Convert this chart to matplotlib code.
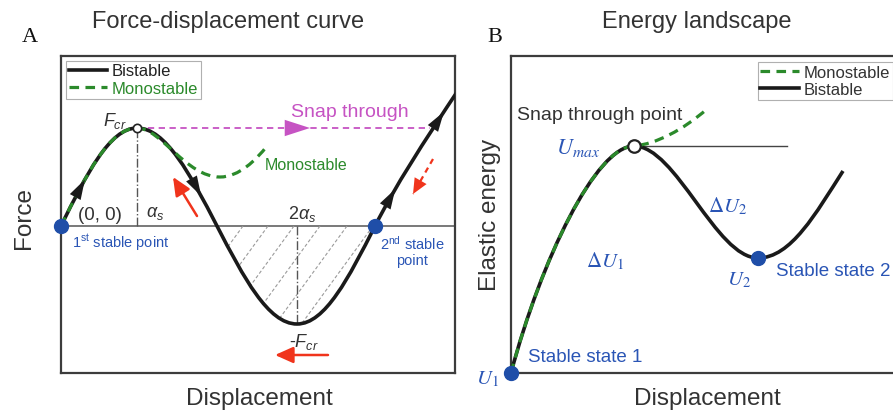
import numpy as np
import matplotlib
matplotlib.use("Agg")
import matplotlib.pyplot as plt
from matplotlib.path import Path
from matplotlib.patches import PathPatch
from matplotlib.lines import Line2D
from matplotlib.bezier import BezierSegment

plt.rcParams['font.family'] = ['Liberation Sans', 'DejaVu Sans']
plt.rcParams['mathtext.fontset'] = 'custom'
plt.rcParams['mathtext.rm'] = 'Liberation Sans'
plt.rcParams['mathtext.it'] = 'Liberation Sans:italic'
plt.rcParams['mathtext.bf'] = 'Liberation Sans:bold'

# panel A: force vs displacement, cubic Bezier vertices
force_bi_x = [0, 25.4, 48.6, 76, 104.8, 129.3, 156, 182.7, 207.2, 236,
              264.1, 287.9, 314, 335, 360, 400]
force_bi_y = [0, 51.5, 98, 98, 98, 51.5, 0, -51.5, -98, -98,
              -98, -51.5, 0, 41, 80, 140]
force_mono_x = [0, 25.4, 48.6, 76, 100, 125, 159, 178, 195, 206]
force_mono_y = [0, 51.5, 98, 98, 98, 49, 49, 49, 66, 80]
f_cr = 98
alpha_s = 76
two_alpha_s = 236
stable_2 = 314
snap_end = 369
hatch_x0 = [182, 207, 233, 259, 286, 312]

# panel B: elastic energy vs displacement, cubic Bezier vertices
energy_bi_x = [0, 30, 85, 123, 165, 205, 247, 280, 305, 332]
energy_bi_y = [0, 113, 227, 227, 227, 115, 115, 115, 160, 202]
energy_mono_x = [0, 30, 85, 123, 145, 172, 196]
energy_mono_y = [0, 113, 227, 227, 229, 243, 264]
u_max_line_end = 276

BLACK = '#1a1a1a'
GREEN = '#2b8a2b'
BLUE = '#1f4ea8'
BLUE_TXT = '#2a55b5'
RED = '#f0341c'
MAG = '#c653c3'
TXT = '#333333'
DASH = (0, (3, 2))

W, H = 893, 414


def frac(x0, y0, x1, y1):
    return [x0 / W, 1 - y1 / H, (x1 - x0) / W, (y1 - y0) / H]


def bezier_path(xs, ys):
    verts = list(zip(xs, ys))
    codes = [Path.MOVETO] + [Path.CURVE4] * (len(verts) - 1)
    return Path(verts, codes)


def head_on_curve(ax, xs, ys, seg, t, color=BLACK, size=17):
    pts = np.column_stack([xs, ys])[3 * seg:3 * seg + 4]
    b = BezierSegment(pts)
    tip = np.asarray(b.point_at_t(t))
    d = tip - np.asarray(b.point_at_t(t - 0.04))
    d = d / np.hypot(*d)
    ax.annotate('', xy=tip, xytext=tip - 16 * d,
                arrowprops=dict(arrowstyle='-|>,head_length=0.85,head_width=0.26',
                                color=color, lw=0, shrinkA=0, shrinkB=0,
                                mutation_scale=size), zorder=7)


def red_arrow(ax, tail, tip, dashed=False):
    style = '-|>,head_length=0.85,head_width=0.38'
    if dashed:
        ax.plot([tail[0], tip[0]], [tail[1], tip[1]], color=RED, lw=1.6,
                ls=(0, (2.5, 2)))
        ax.annotate('', xy=tip, xytext=(tip[0] + (tail[0] - tip[0]) * 0.4,
                                        tip[1] + (tail[1] - tip[1]) * 0.4),
                    arrowprops=dict(arrowstyle=style, color=RED, lw=0,
                                    shrinkA=0, shrinkB=0, mutation_scale=13))
    else:
        ax.annotate('', xy=tip, xytext=tail,
                    arrowprops=dict(arrowstyle=style, color=RED, lw=1.8,
                                    shrinkA=0, shrinkB=0, mutation_scale=13))


fig = plt.figure(figsize=(8.93, 4.14), dpi=100)

axA = fig.add_axes(frac(61, 57, 455, 374))
axA.set_xlim(0, 394)
axA.set_ylim(-147, 170)
axB = fig.add_axes(frac(511, 57, 905, 374))
axB.set_xlim(0, 394)
axB.set_ylim(0, 317)

for ax in (axA, axB):
    ax.set_xticks([])
    ax.set_yticks([])
    for s in ax.spines.values():
        s.set_linewidth(1.6)
        s.set_color('#3c3c3c')

# ---------- panel A ----------
axA.axhline(0, color='#555555', lw=1.1, zorder=1)

region = list(zip(force_bi_x[6:13], force_bi_y[6:13])) + [(force_bi_x[6], 0)]
region_codes = [Path.MOVETO] + [Path.CURVE4] * 6 + [Path.CLOSEPOLY]
clip = PathPatch(Path(region, region_codes), facecolor='none', edgecolor='none')
axA.add_patch(clip)
for x0 in hatch_x0:
    ln, = axA.plot([x0, x0 - 110 / 1.37], [0, -110], color='#9a9a9a', lw=0.8,
                   ls=(0, (3, 2)), zorder=1)
    ln.set_clip_path(clip)

axA.plot([alpha_s, alpha_s], [0, f_cr], color='#555555', lw=1, ls='-.', zorder=1)
axA.plot([two_alpha_s, two_alpha_s], [0, -f_cr], color='#555555', lw=1, ls='-.',
         zorder=1)

axA.add_patch(PathPatch(bezier_path(force_bi_x, force_bi_y), fill=False,
                        lw=2.6, edgecolor=BLACK, zorder=3))
axA.add_patch(PathPatch(bezier_path(force_mono_x, force_mono_y), fill=False,
                        lw=2.3, edgecolor=GREEN, linestyle=DASH, zorder=4))

head_on_curve(axA, force_bi_x, force_bi_y, 0, 0.32)
head_on_curve(axA, force_bi_x, force_bi_y, 1, 0.8)
head_on_curve(axA, force_bi_x, force_bi_y, 4, 0.3)
head_on_curve(axA, force_bi_x, force_bi_y, 4, 0.85)

axA.plot([alpha_s, snap_end], [f_cr, f_cr], color=MAG, lw=1.3, ls=(0, (3.5, 2.5)),
         zorder=2)
axA.annotate('', xy=(249, f_cr), xytext=(228, f_cr),
             arrowprops=dict(arrowstyle='-|>,head_length=1.3,head_width=0.42',
                             color=MAG, lw=0, shrinkA=0, shrinkB=0,
                             mutation_scale=14))

axA.plot(alpha_s, f_cr, 'o', ms=6, mfc='white', mec='#222222', mew=1.2, zorder=6)
axA.plot([0, stable_2], [0, 0], 'o', ms=10, color=BLUE, clip_on=False, zorder=6)

red_arrow(axA, (136, 10), (112, 49))
red_arrow(axA, (372, 67), (352, 32), dashed=True)
red_arrow(axA, (267, -129), (214, -129))

axA.text(54, 106, r'$F_{cr}$', fontsize=13, ha='center', va='center', color=TXT)
axA.text(289, 115, 'Snap through', fontsize=14, ha='center', va='center', color=MAG)
axA.text(204, 61, 'Monostable', fontsize=11.5, ha='left', va='center', color=GREEN)
axA.text(38.5, 12, '(0, 0)', fontsize=13.5, ha='center', va='center', color=TXT)
axA.text(94, 13, r'$\alpha_s$', fontsize=13, ha='center', va='center', color=TXT)
axA.text(241, 13, r'$2\alpha_s$', fontsize=13, ha='center', va='center', color=TXT)
axA.text(11, -16, r'1$^{\mathrm{st}}$ stable point', fontsize=10.5, ha='left',
         va='center', color=BLUE_TXT)
axA.text(351, -24, '2$^{\\mathrm{nd}}$ stable\npoint', fontsize=10.5, ha='center',
         va='center', color=BLUE_TXT, multialignment='center', linespacing=1.1)
axA.text(243, -115, r'-$F_{cr}$', fontsize=13, ha='center', va='center', color=TXT)

legA = axA.legend([Line2D([], [], color=BLACK, lw=2.6),
                   Line2D([], [], color=GREEN, lw=2.3, ls=DASH)],
                  ['Bistable', 'Monostable'], loc='upper left',
                  bbox_to_anchor=(5 / 394, (374 - 62) / 317), borderaxespad=0,
                  fontsize=12, handlelength=2.3, handletextpad=0.3,
                  labelspacing=0.15, borderpad=0.15, fancybox=False,
                  framealpha=1, edgecolor='#b0b0b0')
legA.get_frame().set_linewidth(0.8)
legA.get_texts()[0].set_color('#222222')
legA.get_texts()[1].set_color(GREEN)

# ---------- panel B ----------
peak_x, peak_y = energy_bi_x[3], energy_bi_y[3]
axB.plot([peak_x, u_max_line_end], [peak_y, peak_y], color='#444444', lw=1, zorder=2)
axB.add_patch(PathPatch(bezier_path(energy_bi_x, energy_bi_y), fill=False,
                        lw=2.6, edgecolor=BLACK, zorder=3))
axB.add_patch(PathPatch(bezier_path(energy_mono_x, energy_mono_y), fill=False,
                        lw=2.3, edgecolor=GREEN, linestyle=DASH, zorder=4))
axB.plot(peak_x, peak_y, 'o', ms=9, mfc='white', mec='#222222', mew=1.6, zorder=6)
axB.plot([energy_bi_x[0], energy_bi_x[6]], [energy_bi_y[0], energy_bi_y[6]], 'o',
         ms=10, color=BLUE, clip_on=False, zorder=6)

axB.text(89, 258, 'Snap through point', fontsize=14, ha='center', va='center',
         color=TXT)
axB.text(89, 226, r'$U_{max}$', fontsize=16, ha='right', va='center',
         color=BLUE_TXT, math_fontfamily='stix')
axB.text(94, 113, r'$\mathit{\Delta}U_1$', fontsize=15, ha='center', va='center',
         color=BLUE_TXT, math_fontfamily='stix')
axB.text(217, 168, r'$\mathit{\Delta}U_2$', fontsize=15, ha='center', va='center',
         color=BLUE_TXT, math_fontfamily='stix')
axB.text(228, 94, r'$U_2$', fontsize=15, ha='center', va='center',
         color=BLUE_TXT, math_fontfamily='stix')
axB.text(-24, -5, r'$U_1$', fontsize=15, ha='center', va='center',
         color=BLUE_TXT, math_fontfamily='stix')
axB.text(265, 102, 'Stable state 2', fontsize=13.5, ha='left', va='center',
         color=BLUE_TXT)
axB.text(17, 16, 'Stable state 1', fontsize=13.5, ha='left', va='center',
         color=BLUE_TXT)

legB = axB.legend([Line2D([], [], color=GREEN, lw=2.3, ls=DASH),
                   Line2D([], [], color=BLACK, lw=2.6)],
                  ['Monostable', 'Bistable'], loc='upper left',
                  bbox_to_anchor=(247 / 394, (374 - 63) / 317), borderaxespad=0,
                  fontsize=12, handlelength=2.3, handletextpad=0.3,
                  labelspacing=0.15, borderpad=0.15, fancybox=False,
                  framealpha=1, edgecolor='#b0b0b0')
legB.get_frame().set_linewidth(0.8)
for t in legB.get_texts():
    t.set_color(TXT)

# ---------- titles and axis labels ----------
fig.text(228 / W, 1 - 28 / H, 'Force-displacement curve', fontsize=17,
         ha='center', va='baseline', color=TXT)
fig.text(697 / W, 1 - 28 / H, 'Energy landscape', fontsize=17,
         ha='center', va='baseline', color=TXT)
fig.text(30 / W, 1 - 42 / H, 'A', fontfamily='Liberation Serif', fontsize=16,
         ha='center', va='baseline', color='#111111')
fig.text(495 / W, 1 - 42 / H, 'B', fontfamily='Liberation Serif', fontsize=16,
         ha='center', va='baseline', color='#111111')
fig.text(24.5 / W, 1 - 218 / H, 'Force', fontsize=17.5, rotation=90,
         ha='center', va='center', color=TXT)
fig.text(490 / W, 1 - 215 / H, 'Elastic energy', fontsize=17.5, rotation=90,
         ha='center', va='center', color=TXT)
fig.text(259 / W, 1 - 405 / H, 'Displacement', fontsize=17.5,
         ha='center', va='baseline', color=TXT)
fig.text(707 / W, 1 - 405 / H, 'Displacement', fontsize=17.5,
         ha='center', va='baseline', color=TXT)

fig.savefig('out.png', dpi=100)
